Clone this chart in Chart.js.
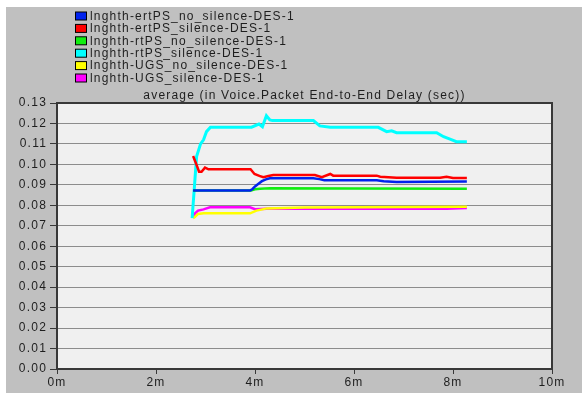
<!DOCTYPE html>
<html>
<head>
<meta charset="utf-8">
<script src="https://cdn.jsdelivr.net/npm/chart.js@4.4.1/dist/chart.umd.min.js"></script>
<style>
  html, body { margin: 0; padding: 0; background: #ffffff; }
  canvas { display: block; }
</style>
</head>
<body>
<canvas id="c" width="582" height="393"></canvas>
<script>
// Average voice packet end-to-end delay (sec) over simulation time (minutes)
const chartTitle = 'average (in Voice.Packet End-to-End Delay (sec))';

const seriesNames = [
  'lnghth-ertPS_no_silence-DES-1',
  'lnghth-ertPS_silence-DES-1',
  'lnghth-rtPS_no_silence-DES-1',
  'lnghth-rtPS_silence-DES-1',
  'lnghth-UGS_no_silence-DES-1',
  'lnghth-UGS_silence-DES-1'
];
const seriesColors = ['#0022ee', '#ff0000', '#11ee11', '#00ffff', '#ffff00', '#ff00ff'];

// time (min) / delay (sec) pairs for each series
const ertNoSilT = [2.75, 3.90, 3.95, 4.00, 4.07, 4.14, 4.22, 4.30, 5.18, 5.30, 5.40, 6.46, 6.60, 6.86, 8.28];
const ertNoSilV = [0.0872, 0.0872, 0.0880, 0.0892, 0.0905, 0.0918, 0.0927, 0.0932, 0.0932, 0.0928, 0.0923, 0.0922, 0.0918, 0.0914, 0.0916];

const ertSilT = [2.75, 2.82, 2.87, 2.92, 2.99, 3.06, 3.91, 3.99, 4.10, 4.17, 4.27, 4.37, 5.21, 5.35, 5.52, 5.58, 6.46, 6.53, 6.86, 7.74, 7.87, 8.00, 8.28];
const ertSilV = [0.1041, 0.0997, 0.0964, 0.0964, 0.0984, 0.0976, 0.0976, 0.0953, 0.0943, 0.0937, 0.0943, 0.0948, 0.0948, 0.0937, 0.0953, 0.0945, 0.0945, 0.0940, 0.0935, 0.0935, 0.0940, 0.0934, 0.0934];

const rtNoSilT = [2.75, 3.92, 4.00, 4.10, 4.30, 6.00, 8.28];
const rtNoSilV = [0.0872, 0.0872, 0.0878, 0.0881, 0.0883, 0.0882, 0.0881];

const rtSilT = [2.73, 2.82, 2.90, 2.96, 3.02, 3.10, 3.93, 4.08, 4.15, 4.23, 4.30, 4.35, 5.18, 5.31, 5.52, 6.49, 6.66, 6.76, 6.86, 7.67, 7.81, 7.94, 8.07, 8.28];
const rtSilV = [0.0737, 0.1038, 0.1100, 0.1120, 0.1160, 0.1182, 0.1182, 0.1197, 0.1184, 0.1238, 0.1217, 0.1214, 0.1214, 0.1188, 0.1181, 0.1181, 0.1160, 0.1164, 0.1155, 0.1155, 0.1135, 0.1123, 0.1111, 0.1111];

const ugsNoSilT = [2.75, 2.79, 2.85, 2.96, 3.90, 4.03, 4.24, 5.00, 8.28];
const ugsNoSilV = [0.0737, 0.0744, 0.0758, 0.0761, 0.0761, 0.0774, 0.0785, 0.0789, 0.0793];

const ugsSilT = [2.75, 2.79, 2.85, 2.96, 3.09, 3.90, 4.00, 4.24, 6.00, 7.87, 8.28];
const ugsSilV = [0.0740, 0.0761, 0.0774, 0.0780, 0.0790, 0.0790, 0.0781, 0.0783, 0.0783, 0.0783, 0.0787];

const xTickStep = 2;      // minutes
const yTickStep = 0.01;   // seconds

const seriesT = [ertNoSilT, ertSilT, rtNoSilT, rtSilT, ugsNoSilT, ugsSilT];
const seriesV = [ertNoSilV, ertSilV, rtNoSilV, rtSilV, ugsNoSilV, ugsSilV];

const FONT = 'Liberation Sans, Arial, sans-serif';
const TEXT = '#1e1e1e';
const DARK = '#383838';

const datasets = seriesNames.map((name, i) => ({
  label: name,
  data: seriesT[i].map((t, k) => ({ x: t, y: seriesV[i][k] })),
  borderColor: seriesColors[i],
  backgroundColor: seriesColors[i],
  borderWidth: i === 3 ? 3 : 2.5,
  pointRadius: 0,
  tension: 0,
  fill: false
}));

// panel background, plot frame, title and legend box
const panel = {
  id: 'panel',
  beforeDraw(chart) {
    const ctx = chart.ctx, a = chart.chartArea;
    ctx.save();
    ctx.fillStyle = '#ffffff';
    ctx.fillRect(0, 0, chart.width, chart.height);
    ctx.fillStyle = '#c0c0c0';
    ctx.fillRect(6, 7, chart.width - 6, chart.height - 7);
    ctx.fillStyle = '#f0f0f0';
    ctx.fillRect(a.left, a.top, a.right - a.left, a.bottom - a.top);
    ctx.restore();
    ctx.letterSpacing = '1.2px';
  },
  afterDraw(chart) {
    const ctx = chart.ctx, a = chart.chartArea;
    ctx.save();
    ctx.letterSpacing = '1.2px';
    // frame
    ctx.strokeStyle = DARK;
    ctx.lineWidth = 2;
    ctx.strokeRect(a.left, a.top, a.right - a.left, a.bottom - a.top);
    // title
    ctx.fillStyle = TEXT;
    ctx.font = '12px ' + FONT;
    ctx.textAlign = 'center';
    ctx.textBaseline = 'middle';
    ctx.fillText(chartTitle, (a.left + a.right) / 2, a.top - 7);
    // legend
    ctx.textAlign = 'left';
    chart.data.datasets.forEach((ds, i) => {
      const cy = 16 + i * 12.4;
      ctx.fillStyle = ds.borderColor;
      ctx.fillRect(75.5, cy - 4, 11, 8);
      ctx.strokeStyle = '#000000';
      ctx.lineWidth = 1;
      ctx.strokeRect(75.5, cy - 4, 11, 8);
      ctx.fillStyle = TEXT;
      ctx.fillText(ds.label, 90, cy + 0.5);
    });
    ctx.restore();
  }
};

new Chart(document.getElementById('c'), {
  type: 'line',
  data: { datasets },
  plugins: [panel],
  options: {
    responsive: false,
    animation: false,
    devicePixelRatio: 1,
    layout: { padding: { top: 103, right: 30, left: 0, bottom: 0 } },
    plugins: {
      legend: { display: false },
      title: { display: false },
      tooltip: { enabled: false }
    },
    scales: {
      x: {
        type: 'linear',
        min: 0,
        max: 10,
        afterFit(s) { s.height = 24; },
        grid: { drawOnChartArea: false, tickLength: 5, tickColor: DARK, tickWidth: 1 },
        border: { color: DARK, width: 2 },
        ticks: {
          stepSize: xTickStep,
          maxRotation: 0,
          padding: 1,
          color: TEXT,
          font: { family: FONT, size: 12 },
          callback: v => v + 'm'
        }
      },
      y: {
        type: 'linear',
        min: 0,
        max: 0.13,
        afterFit(s) { s.width = 57; },
        grid: { color: '#8c8c8c', lineWidth: 1, tickLength: 7, tickColor: DARK, tickWidth: 1 },
        border: { color: DARK, width: 2 },
        ticks: {
          stepSize: yTickStep,
          padding: 3,
          color: TEXT,
          font: { family: FONT, size: 12 },
          callback: v => Number(v).toFixed(2)
        }
      }
    }
  }
});
</script>
</body>
</html>
